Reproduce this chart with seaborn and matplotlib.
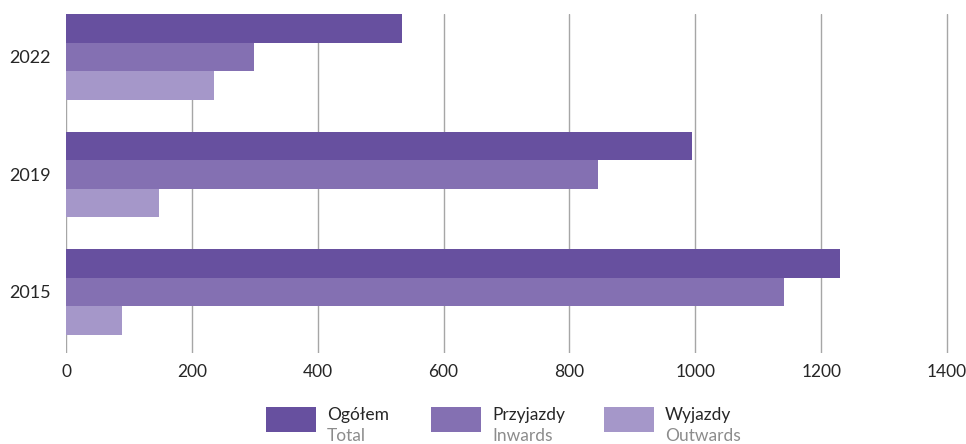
import matplotlib
matplotlib.use("Agg")
import matplotlib.pyplot as plt
from matplotlib.patches import Rectangle
import seaborn as sns
import pandas as pd

years = ["2022", "2019", "2015"]
total = [534, 995, 1230]
inwards = [299, 845, 1141]
outwards = [235, 148, 89]
series_pl = ["Ogółem", "Przyjazdy", "Wyjazdy"]
series_en = ["Total", "Inwards", "Outwards"]
colors = ["#67509F", "#8470B2", "#A597C9"]
x_ticks = [0, 200, 400, 600, 800, 1000, 1200, 1400]

rows = []
for i, y in enumerate(years):
    for name, vals in zip(series_pl, [total, inwards, outwards]):
        rows.append({"year": y, "series": name, "value": vals[i]})
df = pd.DataFrame(rows)

sns.set_theme(style="white")
plt.rcParams["font.family"] = ["Lato", "DejaVu Sans"]

fig = plt.figure(figsize=(9.66, 4.44), dpi=100)
ax = fig.add_axes([66 / 966, (444 - 353) / 444, 883 / 966, 339 / 444])

sns.barplot(data=df, y="year", x="value", hue="series", order=years,
            hue_order=series_pl, palette=colors, orient="h", width=0.73,
            saturation=1, linewidth=0, legend=False, ax=ax)

ax.set_xlim(0, 1403)
ax.set_ylim(2.52, -0.365)
ax.set_xticks(x_ticks)
ax.set_xticklabels([str(t) for t in x_ticks])
ax.xaxis.grid(True, color="#a6a6a6", linewidth=1.0)
ax.yaxis.grid(False)
ax.set_axisbelow(True)
for s in ax.spines.values():
    s.set_visible(False)
ax.set_xlabel("")
ax.set_ylabel("")
ax.tick_params(axis="both", length=0, labelsize=12.5, colors="#262626")
ax.tick_params(axis="y", labelsize=13, pad=11)
ax.tick_params(axis="x", pad=8)

# legend: colour swatch with Polish label and English subtitle
leg_x = [266, 431, 604]
for x0, c, pl, en in zip(leg_x, colors, series_pl, series_en):
    fig.patches.append(Rectangle((x0 / 966, (444 - 432) / 444), 50 / 966, 25 / 444,
                                 transform=fig.transFigure, color=c, linewidth=0))
    fig.text((x0 + 61) / 966, (444 - 415) / 444, pl, fontsize=12.5,
             color="#262626", va="center", ha="left")
    fig.text((x0 + 61) / 966, (444 - 436) / 444, en, fontsize=12.5,
             color="#8c8c8c", va="center", ha="left")

fig.savefig("out.png", dpi=100)
